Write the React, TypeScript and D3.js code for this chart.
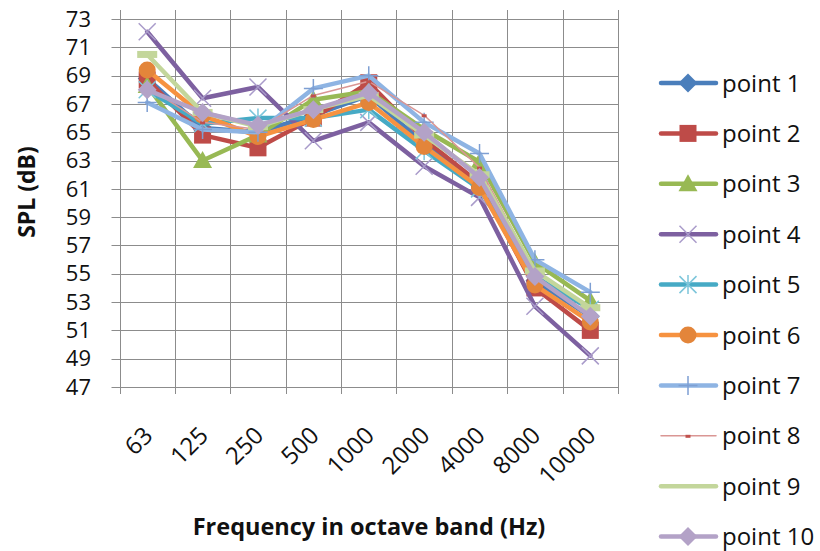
import React from "react";
import * as d3 from "d3";

const categories = ["63", "125", "250", "500", "1000", "2000", "4000", "8000", "10000"];
const yTicks = [47, 49, 51, 53, 55, 57, 59, 61, 63, 65, 67, 69, 71, 73];

const point1 = [68.8, 65.3, 65.0, 66.2, 67.6, 64.2, 61.3, 54.5, 52.0];
const point2 = [68.7, 64.8, 63.9, 66.0, 68.5, 64.5, 61.4, 54.0, 51.0];
const point3 = [68.3, 63.0, 64.8, 67.3, 67.9, 65.2, 62.9, 55.8, 53.1];
const point4 = [72.1, 67.4, 68.2, 64.4, 65.7, 62.6, 60.4, 52.7, 49.2];
const point5 = [68.0, 65.6, 66.0, 66.0, 66.6, 63.7, 61.0, 54.8, 52.5];
const point6 = [69.4, 66.2, 64.7, 65.9, 67.1, 64.0, 61.1, 54.2, 51.6];
const point7 = [67.1, 65.2, 65.0, 68.1, 69.0, 65.7, 63.5, 56.0, 53.7];
const point8 = [68.2, 65.7, 65.2, 67.6, 68.6, 66.2, 62.5, 55.2, 52.6];
const point9 = [70.5, 66.4, 65.4, 66.6, 67.6, 64.8, 62.0, 55.2, 52.6];
const point10 = [68.0, 66.4, 65.5, 66.6, 67.8, 65.0, 61.8, 54.8, 52.0];

const seriesNames = ["point 1", "point 2", "point 3", "point 4", "point 5", "point 6", "point 7", "point 8", "point 9", "point 10"];
const seriesValues = [point1, point2, point3, point4, point5, point6, point7, point8, point9, point10];
const seriesColors = ["#4A7EBB", "#BE4B48", "#98B954", "#7D60A0", "#46AAC5", "#F69240", "#8EB4E3", "#DA9694", "#C3D69B", "#B3A2C7"];
const markerColors = ["#4A7EBB", "#BE4B48", "#98B954", "#A99BCA", "#7CC5DA", "#E3853A", "#7E9FD3", "#C0504D", "#C3D69B", "#B3A2C7"];
const markerTypes = ["diamond", "square", "triangle", "x", "star", "circle", "plus", "dash", "wide", "diamond"];
const lineWidths = [4.5, 4.5, 4.5, 4.5, 4.5, 4.5, 4.5, 1.5, 4.5, 4.5];

const FONT = "'Open Sans', 'Liberation Sans', sans-serif";

function Marker({ type, x, y, color }: { type: string; x: number; y: number; color: string }) {
  const s = 8.5;
  switch (type) {
    case "diamond":
      return <path d={`M${x},${y - s - 1}L${x + s + 1},${y}L${x},${y + s + 1}L${x - s - 1},${y}Z`} fill={color} />;
    case "square":
      return <rect x={x - s} y={y - s} width={2 * s} height={2 * s} fill={color} />;
    case "triangle":
      return <path d={`M${x},${y - s - 1}L${x + s + 1},${y + s - 1}L${x - s - 1},${y + s - 1}Z`} fill={color} />;
    case "circle":
      return <circle cx={x} cy={y} r={s} fill={color} />;
    case "x":
      return (
        <path d={`M${x - s},${y - s}L${x + s},${y + s}M${x - s},${y + s}L${x + s},${y - s}`} stroke={color} strokeWidth={1.5} />
      );
    case "star":
      return (
        <path
          d={`M${x - s},${y - s}L${x + s},${y + s}M${x - s},${y + s}L${x + s},${y - s}M${x},${y - s - 1}L${x},${y + s + 1}`}
          stroke={color}
          strokeWidth={1.5}
        />
      );
    case "plus":
      return <path d={`M${x - s - 1},${y}L${x + s + 1},${y}M${x},${y - s - 1}L${x},${y + s + 1}`} stroke={color} strokeWidth={1.5} />;
    case "dash":
      return <rect x={x - 2.5} y={y - 1} width={5} height={3} fill={color} />;
    case "wide":
      return <rect x={x - 10} y={y - 3.5} width={20} height={7} fill={color} />;
    default:
      return null;
  }
}

export default function App() {
  const W = 820;
  const H = 551;
  const left = 119.5;
  const right = 618;
  const top = 10;
  const bottom = 387;

  const x = d3.scaleBand<string>().domain(categories).range([left, right]).padding(0);
  const y = d3.scaleLinear().domain([47, 73.64]).range([bottom, top]);
  const cx = (c: string) => (x(c) as number) + x.bandwidth() / 2;

  const line = d3
    .line<number>()
    .x((_, i) => cx(categories[i]))
    .y((v) => y(v));

  const gridColor = "#8C8C8C";
  const boundaries = categories.map((c) => x(c) as number).concat([right]);

  const legendY0 = 83;
  const legendStep = 50.4;

  return (
    <svg width={W} height={H} style={{ position: "absolute", left: 0, top: 0, background: "#fff" }}>
      <rect x={0} y={0} width={W} height={H} fill="#fff" />
      {yTicks.map((t) => (
        <line key={"h" + t} x1={left - 8} x2={right} y1={Math.round(y(t)) + 0.5} y2={Math.round(y(t)) + 0.5} stroke={gridColor} strokeWidth={1} />
      ))}
      {boundaries.map((b, i) => (
        <line key={"v" + i} x1={Math.round(b) + 0.5} x2={Math.round(b) + 0.5} y1={top} y2={bottom + 7} stroke={gridColor} strokeWidth={1} />
      ))}
      {yTicks.map((t) => (
        <text key={"yl" + t} x={91} y={y(t)} dy="0.35em" textAnchor="end" fontFamily={FONT} fontSize={22} fill="#111">
          {t}
        </text>
      ))}
      {categories.map((c) => (
        <text
          key={"xl" + c}
          transform={`translate(${cx(c) + 7},${437}) rotate(-45)`}
          textAnchor="end"
          fontFamily={FONT}
          fontSize={24}
          fill="#111"
        >
          {c}
        </text>
      ))}
      <text x={369} y={535} textAnchor="middle" fontFamily={FONT} fontSize={23.5} fontWeight="bold" fill="#111">
        Frequency in octave band (Hz)
      </text>
      <text transform={`translate(35,192) rotate(-90)`} textAnchor="middle" fontFamily={FONT} fontSize={23} fontWeight="bold" fill="#111">
        SPL (dB)
      </text>
      {seriesValues.map((vals, si) => (
        <g key={"s" + si}>
          <path d={line(vals) || ""} fill="none" stroke={seriesColors[si]} strokeWidth={lineWidths[si]} strokeLinejoin="round" strokeLinecap="round" />
          {vals.map((v, i) => (
            <Marker key={i} type={markerTypes[si]} x={cx(categories[i])} y={y(v)} color={markerColors[si]} />
          ))}
        </g>
      ))}
      {seriesNames.map((n, i) => {
        const ly = legendY0 + i * legendStep;
        return (
          <g key={"lg" + i}>
            <line x1={661} x2={716} y1={ly} y2={ly} stroke={seriesColors[i]} strokeWidth={lineWidths[i]} strokeLinecap="round" />
            {markerTypes[i] !== "wide" && <Marker type={markerTypes[i]} x={688} y={ly} color={markerColors[i]} />}
            <text x={722} y={ly} dy="0.36em" fontFamily={FONT} fontSize={24} fill="#111">
              {n}
            </text>
          </g>
        );
      })}
    </svg>
  );
}
